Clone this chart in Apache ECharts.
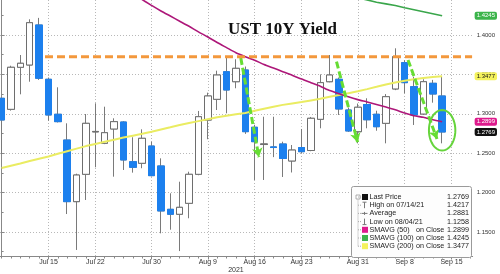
<!DOCTYPE html>
<html><head><meta charset="utf-8">
<script src="https://cdn.jsdelivr.net/npm/echarts@6/dist/echarts.min.js"></script>
<style>html,body{margin:0;padding:0;background:#fff}#c{width:500px;height:274px}</style>
</head><body><div id="c"></div>
<script>
// trading-day slots (index = x position)
const dates = ['Jul 8','Jul 9','Jul 12','Jul 13','Jul 14','Jul 15','Jul 16','Jul 19','Jul 20','Jul 21','Jul 22','Jul 23','Jul 26','Jul 27','Jul 28','Jul 29','Jul 30','Aug 2','Aug 3','Aug 4','Aug 5','Aug 6','Aug 9','Aug 10','Aug 11','Aug 12','Aug 13','Aug 16','Aug 17','Aug 18','Aug 19','Aug 20','Aug 23','Aug 24','Aug 25','Aug 26','Aug 27','Aug 30','Aug 31','Sep 1','Sep 2','Sep 3','Sep 7','Sep 8','Sep 9','Sep 10','Sep 13','Sep 14','Sep 15','Sep 16','Sep 17'];
const tickLabels = ['Jul 15','Jul 22','Jul 30','Aug 9','Aug 16','Aug 23','Aug 31','Sep 8','Sep 15'];
const yearLabel = '2021';
const yTicks = [1.15,1.20,1.25,1.30,1.35,1.40];
const yMinorTicks = [1.125,1.175,1.225,1.275,1.325,1.375,1.425];

const open  = [1.3197,1.3057,1.3590,1.3619,1.4127,1.3438,1.2994,1.2667,1.1885,1.2232,1.2770,1.2626,1.2807,1.2896,1.2392,1.2372,1.2591,1.2338,1.1788,1.1725,1.1864,1.2232,1.2921,1.3184,1.3534,1.3407,1.3556,1.2829,1.2610,1.2580,1.2617,1.2401,1.2572,1.2534,1.2930,1.3407,1.3438,1.3048,1.2773,1.3118,1.2994,1.2879,1.3315,1.3649,1.3344,1.2997,1.3387,1.3226];
const close = [1.2921,1.3590,1.3641,1.4156,1.3451,1.2985,1.2900,1.1885,1.2223,1.2879,1.2776,1.2760,1.2900,1.2414,1.2321,1.2689,1.2215,1.1767,1.1725,1.1813,1.2232,1.2963,1.3226,1.3492,1.3302,1.3577,1.2773,1.2646,1.2618,1.2572,1.2433,1.2540,1.2519,1.2943,1.3395,1.3492,1.3061,1.2782,1.3083,1.2924,1.2836,1.3217,1.3725,1.3395,1.2985,1.3407,1.3251,1.2769];
const low   = [1.2490,1.3040,1.3247,1.3407,1.3430,1.2912,1.2890,1.1728,1.1272,1.1906,1.2321,1.2615,1.2202,1.2287,1.2253,1.2309,1.2205,1.1483,1.1529,1.1258,1.1674,1.2220,1.2677,1.3048,1.3006,1.3324,1.2745,1.2160,1.2160,1.2450,1.2198,1.2255,1.2500,1.2525,1.2816,1.3400,1.2985,1.2770,1.2625,1.2816,1.2785,1.2625,1.3300,1.3260,1.2858,1.2990,1.3141,1.2625];
const high  = [1.3205,1.3610,1.3746,1.4199,1.4217,1.3460,1.3336,1.2879,1.2240,1.2997,1.3133,1.3090,1.2943,1.2905,1.2702,1.2803,1.2646,1.2435,1.1991,1.2138,1.2265,1.3036,1.3268,1.3547,1.3725,1.3692,1.3600,1.2860,1.2963,1.2963,1.2646,1.2604,1.2807,1.2960,1.3500,1.3746,1.3460,1.3080,1.3130,1.3197,1.3039,1.3250,1.3831,1.3680,1.3471,1.3438,1.3430,1.3471];

const sma50  = [null,null,null,null,null,null,null,null,null,null,null,null,null,1.465,1.455,1.445,1.4375,1.4305,1.424,1.4175,1.411,1.404,1.3975,1.3905,1.384,1.3775,1.3725,1.368,1.3625,1.358,1.3535,1.349,1.344,1.3395,1.335,1.3295,1.3255,1.3215,1.318,1.315,1.3118,1.3085,1.305,1.301,1.2975,1.2955,1.2925,1.2899];
const sma100 = [null,null,null,null,null,null,null,null,null,null,null,null,null,null,null,null,null,null,null,null,null,null,null,null,null,null,null,null,null,null,null,null,null,null,null,null,null,1.4495,1.447,1.4445,1.4415,1.4395,1.4375,1.4345,1.432,1.4295,1.427,1.4245];
const sma200 = [1.2312,1.2341,1.2370,1.2400,1.2429,1.2458,1.2492,1.2525,1.2558,1.2590,1.2617,1.2644,1.2671,1.2698,1.2722,1.2746,1.2771,1.2800,1.2828,1.2857,1.2883,1.2907,1.2931,1.2955,1.2975,1.2993,1.3011,1.3038,1.3064,1.3090,1.3113,1.3132,1.3150,1.3170,1.3190,1.3215,1.3238,1.3262,1.3285,1.3313,1.3342,1.3372,1.3396,1.3418,1.3438,1.3455,1.3468,1.3477];
const resistance = 1.3725;
const resistanceFrom = 4.63;
const tagValues = [1.4245, 1.3477, 1.2899, 1.2769];
const tagColors = ['#3cb44b', '#f4f25c', '#de1b8d', '#111111'];
const tagText   = ['#ffffff', '#111111', '#ffffff', '#ffffff'];
// legend
const legendLabels = ['Last Price','High on 07/14/21','Average','Low on 08/04/21','SMAVG (50)','SMAVG (100)','SMAVG (200)'];
const legendValues = ['1.2769','1.4217','1.2881','1.1258','1.2899','1.4245','1.3477'];
// annotation arrows [i0, v0, i1, v1]
const arrows = [[25.52,1.3708,27.45,1.2450],[35.73,1.3661,37.98,1.2640],[43.36,1.3683,46.45,1.2680]];

const X_MIN = -0.1706, X_MAX = 50.255, Y_MIN = 1.1189, Y_MAX = 1.4444;
const BLUE = '#1c80ee', WICK = '#7a7a7a';
const FONT = 'Liberation Sans';

const idx = [...Array(open.length).keys()];
const wickData = idx.map(i => [i, open[i], close[i], low[i], high[i]]);
const bodyData = idx.map(i => [i, open[i], close[i], Math.min(open[i], close[i]), Math.max(open[i], close[i])]);
const line = arr => arr.map((v, i) => [i, v]).filter(p => p[1] != null);
const allIdx = [...Array(dates.length).keys()];
const labelIdx = tickLabels.map(l => dates.indexOf(l));

const chart = echarts.init(document.getElementById('c'), null, {renderer: 'canvas'});
const dotted = {type: [1, 2], color: '#b8b8b8', width: 1};
chart.setOption({
  animation: false,
  title: {text: 'UST 10Y Yield', left: 228, top: 21, padding: 0,
    textStyle: {fontFamily: 'Liberation Serif', fontWeight: 'bold', fontSize: 17, color: '#111'}},
  grid: {left: 0, right: 27, top: 0, bottom: 17.5, containLabel: false},
  xAxis: [
    {type: 'value', min: X_MIN, max: X_MAX, position: 'bottom',
     axisLine: {show: true, lineStyle: {color: '#888'}},
     axisTick: {show: true, customValues: labelIdx, length: 3, lineStyle: {color: '#888'}},
     axisLabel: {customValues: labelIdx, formatter: v => dates[Math.round(v)], fontSize: 7, color: '#333', margin: 2, fontFamily: FONT},
     splitLine: {show: true, lineStyle: dotted}},
    {type: 'value', min: X_MIN, max: X_MAX, position: 'bottom',
     axisLine: {show: false},
     axisTick: {show: true, customValues: allIdx, length: 2, lineStyle: {color: '#888'}},
     axisLabel: {customValues: [25], formatter: () => yearLabel, fontSize: 7, color: '#333', margin: 10, fontFamily: FONT},
     splitLine: {show: false}}
  ],
  yAxis: [
    {type: 'value', min: Y_MIN, max: Y_MAX, position: 'right',
     axisLine: {show: true, lineStyle: {color: '#888'}},
     axisTick: {show: true, customValues: yTicks, length: 3, lineStyle: {color: '#888'}},
     axisLabel: {customValues: yTicks, formatter: v => v.toFixed(4), fontSize: 6, color: '#333', margin: 4, fontFamily: FONT},
     splitLine: {show: true, lineStyle: dotted}},
    {type: 'value', min: Y_MIN, max: Y_MAX, position: 'right',
     axisLine: {show: false},
     axisTick: {show: true, customValues: yMinorTicks, length: 2, lineStyle: {color: '#888'}},
     axisLabel: {show: false}, splitLine: {show: false}},
    {type: 'value', min: Y_MIN, max: Y_MAX, position: 'right', z: 20,
     axisLine: {show: false}, axisTick: {show: false}, splitLine: {show: false},
     axisLabel: {customValues: tagValues, margin: 2, fontFamily: FONT,
       formatter: v => { const k = tagValues.findIndex(t => Math.abs(t - v) < 1e-6); return '{t' + k + '|' + v.toFixed(4) + '}'; },
       rich: Object.fromEntries(tagValues.map((t, k) => ['t' + k, {backgroundColor: tagColors[k], color: tagText[k], fontSize: 6, lineHeight: 6, padding: [1, 2, 1, 2], borderRadius: 2, fontFamily: FONT}]))}}
  ],
  series: [
    {type: 'candlestick', name: 'wick', data: wickData, barWidth: 7, z: 2,
     itemStyle: {color: WICK, color0: WICK, borderColor: WICK, borderColor0: WICK, borderWidth: 1}},
    {type: 'candlestick', name: 'body', data: bodyData, barWidth: 7, z: 3,
     itemStyle: {color: '#ffffff', color0: BLUE, borderColor: '#6e6e6e', borderColor0: BLUE, borderWidth: 1}},
    {type: 'line', name: 'SMAVG (200)', data: line(sma200), showSymbol: false, symbol: 'none', z: 4,
     lineStyle: {color: '#eaec62', width: 2}},
    {type: 'line', name: 'SMAVG (50)', data: line(sma50), showSymbol: false, symbol: 'none', z: 4, smooth: 0.2,
     lineStyle: {color: '#ad1779', width: 1.6}},
    {type: 'line', name: 'SMAVG (100)', data: line(sma100), showSymbol: false, symbol: 'none', z: 4,
     lineStyle: {color: '#3aa64b', width: 1.6}},
    {type: 'line', name: 'level', data: [[resistanceFrom, resistance], [X_MAX - 0.06, resistance]], showSymbol: false, symbol: 'none', z: 5,
     lineStyle: {color: '#f3983c', width: 3, type: [8, 4]},
     markLine: {silent: true, symbol: ['none', 'arrow'], symbolSize: [8, 9], label: {show: false},
       lineStyle: {color: '#66dd33', width: 3, type: [7, 3]},
       data: arrows.map(a => [{coord: [a[0], a[1]]}, {coord: [a[2], a[3]]}])}}
  ]
});

// overlay: ellipse annotation + legend box
const c = chart.convertToPixel({xAxisIndex: 0, yAxisIndex: 0}, [47.0, 1.2791]);
const pts = [];
for (let k = 0; k < 48; k++) { const t = k / 48 * Math.PI * 2; pts.push([c[0] + 13.2 * Math.cos(t), c[1] + 20.3 * Math.sin(t)]); }
const g = [{type: 'polygon', shape: {points: pts}, style: {fill: null, stroke: '#66d43c', lineWidth: 2}, z: 50}];
const bx = 351, by = 186, bw = 120, bh = 71, row0 = 197, step = 8.2;
g.push({type: 'rect', shape: {x: bx + 0.5, y: by + 0.5, width: bw, height: bh, r: 2}, style: {fill: '#fdfdfd', stroke: '#9a9a9a', lineWidth: 1}, z: 60});
g.push({type: 'rect', shape: {x: 356, y: 195, width: 4, height: 4}, style: {fill: '#fff', stroke: '#999', lineWidth: 0.8}, z: 61});
g.push({type: 'line', shape: {x1: 358, y1: 199.5, x2: 358, y2: row0 + 6 * step}, style: {stroke: '#aaa', lineWidth: 1, lineDash: [1, 1]}, z: 61});
const iconColors = ['#111', null, null, null, '#de1b8d', '#3cb44b', '#f4f25c'];
legendLabels.forEach((lab, r) => {
  const y = row0 + r * step;
  g.push({type: 'line', shape: {x1: 358, y1: y, x2: 361, y2: y}, style: {stroke: '#aaa', lineWidth: 1, lineDash: [1, 1]}, z: 61});
  if (iconColors[r]) {
    g.push({type: 'rect', shape: {x: 362, y: y - 3, width: 6, height: 6}, style: {fill: iconColors[r]}, z: 61});
  } else if (r === 1) {
    g.push({type: 'polyline', shape: {points: [[362.5, y - 3], [366.5, y - 3]]}, style: {stroke: '#777', lineWidth: 1}, z: 61});
    g.push({type: 'line', shape: {x1: 364.5, y1: y - 3, x2: 364.5, y2: y + 3}, style: {stroke: '#777', lineWidth: 1}, z: 61});
  } else if (r === 2) {
    g.push({type: 'line', shape: {x1: 361.5, y1: y, x2: 367.5, y2: y}, style: {stroke: '#777', lineWidth: 1}, z: 61});
    g.push({type: 'line', shape: {x1: 364.5, y1: y - 1.5, x2: 364.5, y2: y + 1.5}, style: {stroke: '#777', lineWidth: 1}, z: 61});
  } else if (r === 3) {
    g.push({type: 'line', shape: {x1: 362.5, y1: y + 3, x2: 366.5, y2: y + 3}, style: {stroke: '#777', lineWidth: 1}, z: 61});
    g.push({type: 'line', shape: {x1: 364.5, y1: y - 3, x2: 364.5, y2: y + 3}, style: {stroke: '#777', lineWidth: 1}, z: 61});
  }
  g.push({type: 'text', x: 369.5, y: y, style: {text: lab, fill: '#222', font: '7.2px "' + FONT + '"', verticalAlign: 'middle', align: 'left'}, z: 62});
  if (r >= 4) g.push({type: 'text', x: 416, y: y, style: {text: 'on Close', fill: '#222', font: '7.2px "' + FONT + '"', verticalAlign: 'middle', align: 'left'}, z: 62});
  g.push({type: 'text', x: 469, y: y, style: {text: legendValues[r], fill: '#222', font: '7.2px "' + FONT + '"', verticalAlign: 'middle', align: 'right'}, z: 62});
});
chart.setOption({graphic: g});
</script>
</body></html>
